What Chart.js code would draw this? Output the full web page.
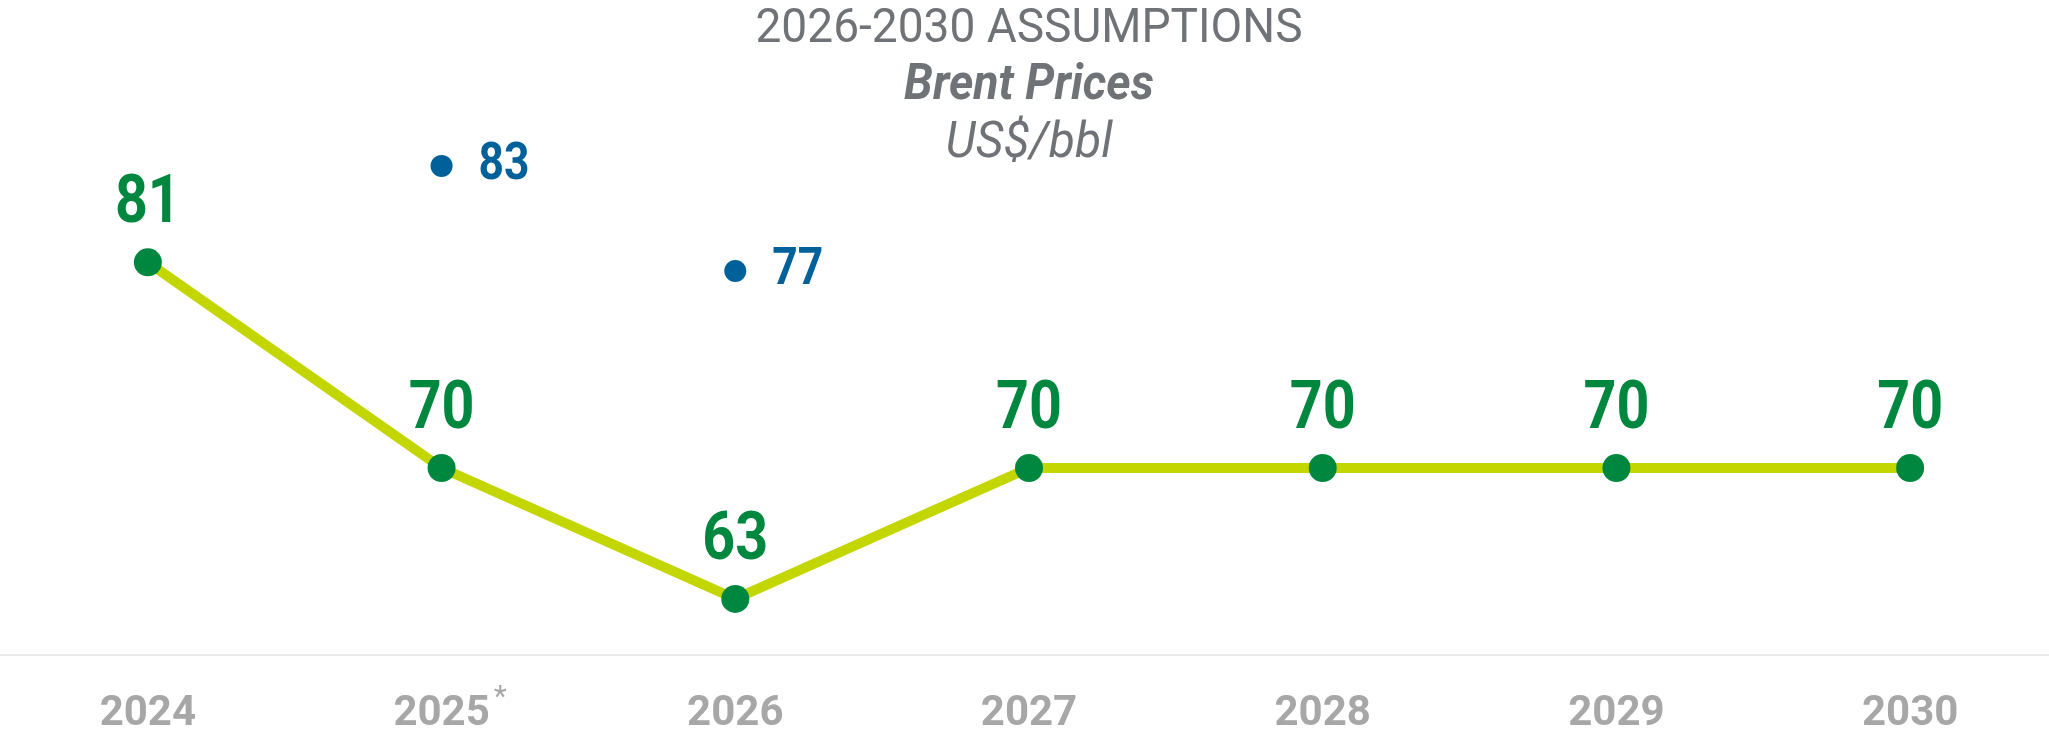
<!DOCTYPE html>
<html>
<head>
<meta charset="utf-8">
<title>Brent Prices</title>
<script src="https://cdn.jsdelivr.net/npm/chart.js@4.4.1/dist/chart.umd.min.js"></script>
<style>
  html, body { margin: 0; padding: 0; background: #fff; overflow: hidden; }
  canvas { display: block; }
</style>
</head>
<body>
<canvas id="brentChart" width="2058" height="736"></canvas>
<script>
// years on the x axis, with footnote marks shown after the label
const years = ['2024', '2025', '2026', '2027', '2028', '2029', '2030'];
const yearMarks = ['', '*', '', '', '', '', ''];

// current base case (green line) and previous assumptions (blue dots)
const brentBase = [81, 70, 63, 70, 70, 70, 70];
const brentPrevious = [null, 83, 77, null, null, null, null];

const titleLines = ['2026-2030 ASSUMPTIONS', 'Brent Prices', 'US$/bbl'];

const GREEN = '#00873f';
const LIME = '#c4d600';
const BLUE = '#00609a';
const GREY_TEXT = '#6f7377';
const GREY_TICK = '#a7a7a7';
const FONT = 'Roboto, "Open Sans", sans-serif';

// numbers above / beside each point
const valueLabels = {
    id: 'valueLabels',
    afterDatasetsDraw(chart) {
        const ctx = chart.ctx;
        chart.data.datasets.forEach((ds, i) => {
            const meta = chart.getDatasetMeta(i);
            meta.data.forEach((pt, j) => {
                const v = ds.data[j];
                if (v === null || v === undefined) return;
                ctx.save();
                ctx.textBaseline = 'alphabetic';
                if (i === 0) {
                    ctx.font = 'bold 66px ' + FONT;
                    ctx.fillStyle = GREEN;
                    ctx.textAlign = 'center';
                    ctx.translate(pt.x, pt.y - 40);
                } else {
                    ctx.font = 'bold 51px ' + FONT;
                    ctx.fillStyle = BLUE;
                    ctx.textAlign = 'left';
                    ctx.translate(pt.x + 37, pt.y + 13);
                }
                ctx.scale(0.87, 1);
                ctx.fillText(String(v), 0, 0);
                ctx.restore();
            });
        });
    }
};

// three-line heading plus the footnote star next to 2025
const heading = {
    id: 'heading',
    afterDraw(chart) {
        const ctx = chart.ctx;
        const cx = chart.width / 2;
        const styles = [
            { font: '49px ' + FONT, y: 42, sx: 0.94 },
            { font: 'italic bold 50px ' + FONT, y: 99, sx: 0.93 },
            { font: 'italic 49px ' + FONT, y: 157, sx: 0.98 }
        ];
        ctx.save();
        ctx.fillStyle = GREY_TEXT;
        ctx.textAlign = 'center';
        ctx.textBaseline = 'alphabetic';
        titleLines.forEach((line, i) => {
            ctx.save();
            ctx.font = styles[i].font;
            ctx.translate(cx, styles[i].y);
            ctx.scale(styles[i].sx, 1);
            ctx.fillText(line, 0, 0);
            ctx.restore();
        });
        ctx.restore();

        const xs = chart.scales.x;
        ctx.save();
        ctx.fillStyle = GREY_TICK;
        ctx.textBaseline = 'alphabetic';
        ctx.textAlign = 'left';
        years.forEach((yr, i) => {
            if (!yearMarks[i]) return;
            ctx.font = 'bold 42px ' + FONT;
            const w = ctx.measureText(yr).width;
            ctx.font = '30px ' + FONT;
            ctx.fillText(yearMarks[i], xs.getPixelForTick(i) + w / 2 + 4, 706);
        });
        ctx.restore();
    }
};

const ctx = document.getElementById('brentChart');
const brentChart = new Chart(ctx, {
    type: 'line',
    data: {
        labels: years,
        datasets: [{
            label: 'Brent',
            data: brentBase,
            yAxisID: 'y',
            borderColor: LIME,
            borderWidth: 10,
            pointRadius: 14,
            pointHoverRadius: 14,
            pointBackgroundColor: GREEN,
            pointBorderWidth: 0,
            tension: 0,
            clip: false
        }, {
            label: 'Previous',
            data: brentPrevious,
            yAxisID: 'y2',
            showLine: false,
            pointRadius: 11,
            pointHoverRadius: 11,
            pointBackgroundColor: BLUE,
            pointBorderWidth: 0,
            clip: false
        }]
    },
    options: {
        responsive: false,
        animation: false,
        devicePixelRatio: 1,
        layout: {
            autoPadding: false,
            padding: { top: 94, left: 1, right: 1, bottom: 0 }
        },
        plugins: {
            legend: { display: false },
            tooltip: { enabled: false }
        },
        scales: {
            x: {
                offset: true,
                grid: { display: false, drawTicks: false },
                border: { display: true, color: '#e9e9e9', width: 2 },
                ticks: {
                    color: GREY_TICK,
                    padding: 34,
                    font: { family: FONT, size: 42, weight: 'bold' }
                },
                afterFit(scale) {
                    scale.height = 81;
                }
            },
            y: {
                display: false,
                min: 60,
                max: 90
            },
            y2: {
                display: false,
                min: 55.1,
                max: 87.1
            }
        }
    },
    plugins: [valueLabels, heading]
});
</script>
</body>
</html>
